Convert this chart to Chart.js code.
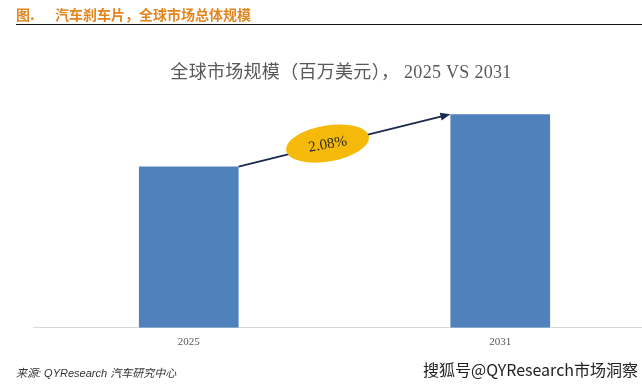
<!DOCTYPE html>
<html>
<head>
<meta charset="utf-8">
<script src="https://cdn.jsdelivr.net/npm/chart.js@4"></script>
<style>
  html, body { margin: 0; padding: 0; background: #fff; overflow: hidden; }
  #page { position: relative; width: 642px; height: 388px; overflow: hidden; }
  #chartBox { position: absolute; left: 0; top: 0; width: 656px; height: 388px; }
  .header { position: absolute; left: 16px; top: 4px; font: bold 14px "Noto Sans CJK SC", sans-serif; color: #e3861f; }
  .header span { position: absolute; left: 39px; white-space: nowrap; }
  .rule { position: absolute; left: 16px; top: 24px; width: 626px; height: 1px; background: #111; }
  .title { position: absolute; left: 0; width: 682px; top: 57px; text-align: center; font: 18px "Liberation Serif", "Noto Sans CJK SC", serif; color: #595959; letter-spacing: 0.3px; white-space: pre; }
  .source { position: absolute; left: 16px; top: 364px; font: italic 11px "Liberation Sans", "Noto Sans CJK SC", sans-serif; color: #333; }
  .mark { position: absolute; left: 423px; top: 357px; font: 16px "Noto Sans CJK SC", sans-serif; color: #222; text-shadow: 0 0 2px #fff, 0 0 2px #fff; }
</style>
</head>
<body>
<div id="page">
  <div id="chartBox"><canvas id="chart"></canvas></div>
  <div class="header">图.<span>汽车刹车片，全球市场总体规模</span></div>
  <div class="rule"></div>
  <div class="title">全球市场规模（百万美元）， 2025 VS 2031</div>
  <div class="source">来源:  QYResearch  汽车研究中心</div>
  <div class="mark">搜狐号@QYResearch市场洞察</div>
</div>
<script>
// values (relative heights, no axis shown)
const years = ['2025', '2031'];
const marketSize = [1600, 2120];
const growthLabel = '2.08%';

// arrow + ellipse between bar tops
const cagrArrow = {
    id: 'cagrArrow',
    afterDatasetsDraw(chart) {
        const bars = chart.getDatasetMeta(0).data;
        const a = bars[0], b = bars[1];
        const x1 = a.x + a.width / 2, y1 = a.y;
        const x2 = b.x - b.width / 2, y2 = b.y;
        const ctx = chart.ctx;
        const ang = Math.atan2(y2 - y1, x2 - x1);
        ctx.save();
        ctx.strokeStyle = '#1c2a4d';
        ctx.fillStyle = '#1c2a4d';
        ctx.lineWidth = 2;
        ctx.beginPath();
        ctx.moveTo(x1, y1);
        ctx.lineTo(x2 - 8 * Math.cos(ang), y2 - 8 * Math.sin(ang));
        ctx.stroke();
        ctx.beginPath();
        ctx.moveTo(x2, y2);
        ctx.lineTo(x2 - 10 * Math.cos(ang) + 4 * Math.sin(ang), y2 - 10 * Math.sin(ang) - 4 * Math.cos(ang));
        ctx.lineTo(x2 - 10 * Math.cos(ang) - 4 * Math.sin(ang), y2 - 10 * Math.sin(ang) + 4 * Math.cos(ang));
        ctx.closePath();
        ctx.fill();
        const cx = x1 + (x2 - x1) * 0.42, cy = y1 + (y2 - y1) * 0.44;
        ctx.translate(cx, cy);
        ctx.rotate(ang * 0.7);
        ctx.fillStyle = '#f5b90a';
        ctx.beginPath();
        ctx.ellipse(0, 0, 42, 18, 0, 0, Math.PI * 2);
        ctx.fill();
        ctx.fillStyle = '#2a2a2a';
        ctx.font = '15px "Liberation Serif", serif';
        ctx.textAlign = 'center';
        ctx.textBaseline = 'middle';
        ctx.fillText(growthLabel, 0, 1);
        ctx.restore();
    }
};

new Chart(document.getElementById('chart'), {
    type: 'bar',
    data: {
        labels: years,
        datasets: [{
            data: marketSize,
            backgroundColor: '#4f81bd',
            categoryPercentage: 1,
            barPercentage: 0.32
        }]
    },
    options: {
        responsive: true,
        maintainAspectRatio: false,
        animation: false,
        layout: { padding: { top: 86, left: 33, right: 0, bottom: 31 } },
        plugins: { legend: { display: false }, tooltip: { enabled: false } },
        scales: {
            x: {
                grid: { display: false, drawTicks: false },
                border: { color: '#d9d9d9' },
                ticks: { color: '#595959', font: { family: '"Liberation Serif", serif', size: 11 }, padding: 8 }
            },
            y: {
                display: false,
                min: 0,
                max: 2400
            }
        }
    },
    plugins: [cagrArrow]
});
</script>
</body>
</html>
